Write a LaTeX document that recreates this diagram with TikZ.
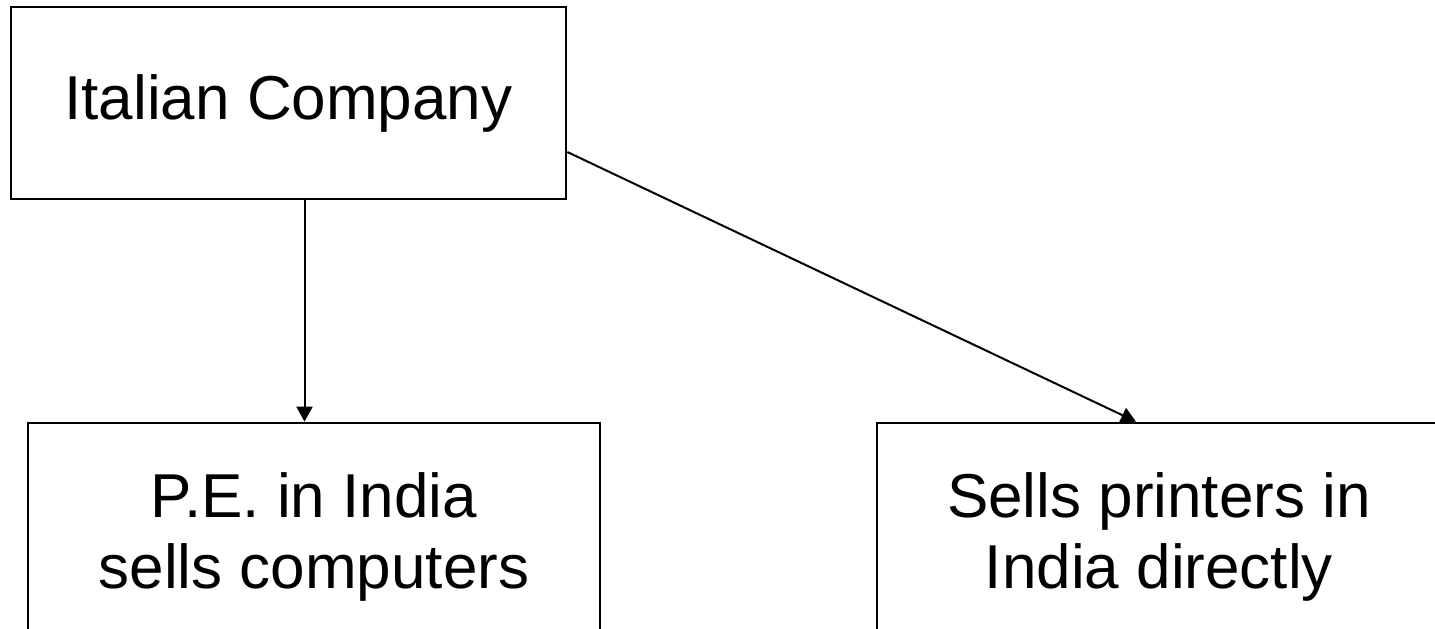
\documentclass[tikz,border=0pt]{standalone}
\usepackage{fontspec}
\setmainfont{Liberation Sans}
\usetikzlibrary{arrows.meta}
\begin{document}
\begin{tikzpicture}[x=1pt,y=-1pt,line join=miter,
	box/.style={draw,line width=2.7pt,rectangle,align=center,inner sep=0pt,font=\fontsize{62}{71.5}\selectfont},
	link/.style={line width=2pt,-{Triangle[length=15pt,width=16pt]}}]
	\useasboundingbox (0,0) rectangle (1435,629);
	\clip (0,0) rectangle (1435,629);
	\node[box,minimum width=555pt,minimum height=192pt] (italian) at (288.5,103) {Italian Company};
	\node[box,minimum width=572pt,minimum height=228pt] (pe) at (314,537) {P.E. in India\\sells computers};
	\node[box,minimum width=564pt,minimum height=228pt] (direct) at (1159,537) {Sells printers in\\India directly};
	\draw[link] ([xshift=16pt]italian.south) -- ([xshift=16pt]italian.south |- pe.north);
	\draw[link] ([yshift=-49pt]italian.east) -- ([xshift=-23pt]direct.north);
\end{tikzpicture}
\end{document}
